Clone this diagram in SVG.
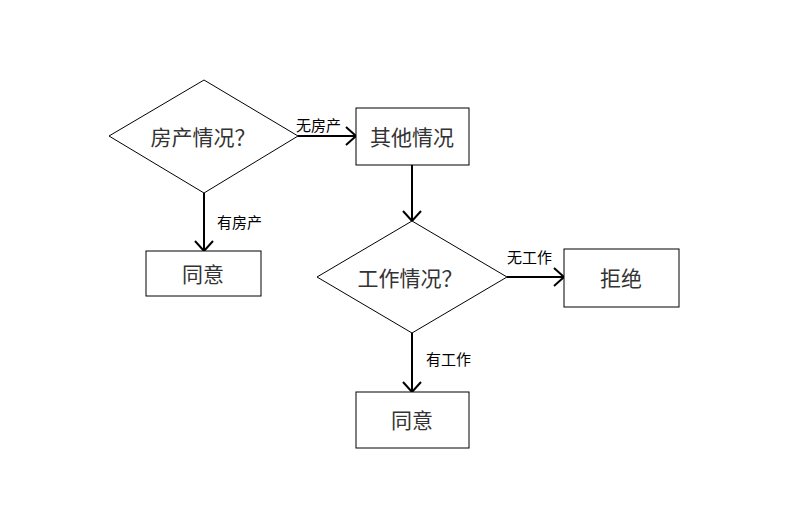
<svg xmlns="http://www.w3.org/2000/svg" width="797" height="520" viewBox="0 0 797 520">
<style>
.shape{fill:#fff;stroke:#000;stroke-width:1}
.big{font-family:"Noto Sans CJK SC","Liberation Sans",sans-serif;font-size:21px;fill:#333;text-anchor:middle;dominant-baseline:central}
.small{font-family:"Noto Sans CJK SC","Liberation Sans",sans-serif;font-size:15px;fill:#000}
.conn{stroke:#000;stroke-width:2;fill:none;marker-end:url(#arr)}
</style>
<defs>
<marker id="arr" viewBox="0 0 12 20" refX="11" refY="10" markerWidth="12" markerHeight="20" markerUnits="userSpaceOnUse" orient="auto">
<path d="M1,1 L11,10 L1,19" fill="none" stroke="#000" stroke-width="2"/>
</marker>
</defs>
<rect width="797" height="520" fill="#fff"/>
<g id="connectors">
<path class="conn" d="M204,193 L204,251"/>
<path class="conn" d="M298,136 L356,136"/>
<path class="conn" d="M412,165 L412,221"/>
<path class="conn" d="M507,277 L564,277"/>
<path class="conn" d="M412,333 L412,392"/>
<text class="small" x="217" y="228">有房产</text>
<text class="small" x="296" y="131">无房产</text>
<text class="small" x="507" y="263">无工作</text>
<text class="small" x="426" y="365">有工作</text>
</g>
<g id="d1">
<polygon class="shape" points="204,80 298,136 204,193 109,136"/>
<text class="big" x="203" y="136">房产情况？</text>
</g>
<g id="r1">
<rect class="shape" x="356" y="108" width="113" height="57"/>
<text class="big" x="412" y="136">其他情况</text>
</g>
<g id="r2">
<rect class="shape" x="146" y="251" width="115" height="45"/>
<text class="big" x="203" y="273">同意</text>
</g>
<g id="d2">
<polygon class="shape" points="412,221 507,277 412,333 317,277"/>
<text class="big" x="410" y="277">工作情况？</text>
</g>
<g id="r3">
<rect class="shape" x="564" y="249" width="115" height="58"/>
<text class="big" x="621" y="277">拒绝</text>
</g>
<g id="r4">
<rect class="shape" x="356" y="392" width="113" height="56"/>
<text class="big" x="412" y="419">同意</text>
</g>
</svg>
